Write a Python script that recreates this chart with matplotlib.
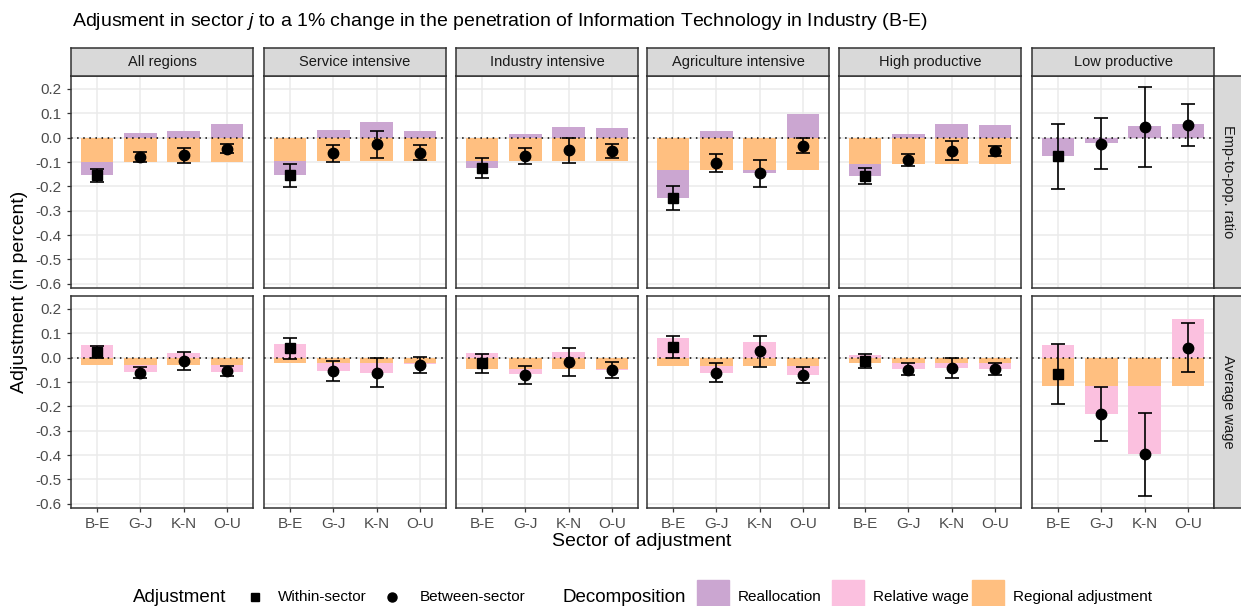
import matplotlib
matplotlib.use("Agg")
import matplotlib.pyplot as plt
from matplotlib.patches import Rectangle
from matplotlib.lines import Line2D

plt.rcParams["font.family"] = ["Liberation Sans", "DejaVu Sans"]
plt.rcParams["mathtext.fontset"] = "custom"
plt.rcParams["mathtext.it"] = "Liberation Sans:italic"

# Data
sectors = ["B-E", "G-J", "K-N", "O-U"]
regions = ["All regions", "Service intensive", "Industry intensive",
           "Agriculture intensive", "High productive", "Low productive"]
outcomes = ["Emp-to-pop. ratio", "Average wage"]

# Emp-to-pop. ratio: regional adjustment + reallocation
emp_regional = [
    [-0.100, -0.100, -0.100, -0.100],
    [-0.094, -0.094, -0.094, -0.094],
    [-0.096, -0.096, -0.096, -0.096],
    [-0.131, -0.131, -0.131, -0.131],
    [-0.109, -0.109, -0.109, -0.109],
    [-0.003, -0.003, -0.003, -0.003],
]
emp_realloc = [
    [-0.055, 0.019, 0.026, 0.054],
    [-0.061, 0.030, 0.064, 0.029],
    [-0.029, 0.016, 0.043, 0.041],
    [-0.116, 0.027, -0.016, 0.096],
    [-0.047, 0.016, 0.054, 0.053],
    [-0.072, -0.021, 0.048, 0.056],
]
emp_point = [
    [-0.155, -0.080, -0.072, -0.046],
    [-0.155, -0.062, -0.027, -0.062],
    [-0.125, -0.077, -0.050, -0.054],
    [-0.247, -0.103, -0.147, -0.034],
    [-0.156, -0.091, -0.053, -0.054],
    [-0.075, -0.026, 0.042, 0.052],
]
emp_lo = [
    [-0.184, -0.099, -0.105, -0.065],
    [-0.202, -0.098, -0.082, -0.092],
    [-0.167, -0.110, -0.102, -0.083],
    [-0.295, -0.139, -0.201, -0.063],
    [-0.189, -0.115, -0.091, -0.075],
    [-0.212, -0.129, -0.122, -0.034],
]
emp_hi = [
    [-0.130, -0.058, -0.041, -0.027],
    [-0.108, -0.029, 0.027, -0.031],
    [-0.082, -0.043, 0.000, -0.026],
    [-0.200, -0.067, -0.092, 0.000],
    [-0.126, -0.067, -0.015, -0.034],
    [0.058, 0.080, 0.209, 0.138],
]

# Average wage: regional adjustment + relative wage
wage_regional = [
    [-0.030, -0.030, -0.030, -0.030],
    [-0.020, -0.020, -0.020, -0.020],
    [-0.045, -0.045, -0.045, -0.045],
    [-0.034, -0.034, -0.034, -0.034],
    [-0.024, -0.024, -0.024, -0.024],
    [-0.118, -0.118, -0.118, -0.118],
]
wage_relwage = [
    [0.053, -0.029, 0.019, -0.027],
    [0.058, -0.033, -0.041, -0.007],
    [0.019, -0.024, 0.024, -0.005],
    [0.079, -0.027, 0.063, -0.039],
    [0.011, -0.024, -0.020, -0.024],
    [0.052, -0.115, -0.278, 0.158],
]
wage_point = [
    [0.024, -0.061, -0.014, -0.054],
    [0.038, -0.054, -0.061, -0.029],
    [-0.024, -0.072, -0.019, -0.052],
    [0.044, -0.061, 0.027, -0.073],
    [-0.012, -0.050, -0.044, -0.046],
    [-0.067, -0.233, -0.397, 0.041],
]
wage_lo = [
    [0.000, -0.083, -0.049, -0.076],
    [-0.005, -0.094, -0.122, -0.061],
    [-0.064, -0.109, -0.076, -0.082],
    [0.000, -0.099, -0.037, -0.106],
    [-0.041, -0.073, -0.082, -0.071],
    [-0.189, -0.343, -0.569, -0.057],
]
wage_hi = [
    [0.049, -0.037, 0.024, -0.033],
    [0.080, -0.014, 0.000, 0.004],
    [0.016, -0.034, 0.039, -0.018],
    [0.087, -0.020, 0.090, -0.038],
    [0.016, -0.022, 0.000, -0.023],
    [0.057, -0.119, -0.226, 0.141],
]

# Colours (Set1 at alpha 0.5 over white)
c_realloc = "#CBA6D1"
c_relwage = "#FBC0DF"
c_regional = "#FFBF80"

W, H = 1241, 606
col_left = [71, 264, 456, 647, 839, 1032]
pw, ph = 182, 212
row_top = [76, 296]

rows = [
    (emp_regional, emp_realloc, c_realloc, emp_point, emp_lo, emp_hi),
    (wage_regional, wage_relwage, c_relwage, wage_point, wage_lo, wage_hi),
]

fig = plt.figure(figsize=(W / 100, H / 100), dpi=100)
x = list(range(len(sectors)))
yticks = [0.2, 0.1, 0.0, -0.1, -0.2, -0.3, -0.4, -0.5, -0.6]

for r, (reg, comp, ccol, pt, lo, hi) in enumerate(rows):
    for c, region in enumerate(regions):
        ax = fig.add_axes([col_left[c] / W, 1 - (row_top[r] + ph) / H, pw / W, ph / H])
        ax.set_xlim(-0.6, 3.6)
        ax.set_ylim(-0.617, 0.253)
        ax.set_axisbelow(True)
        ax.grid(True, color="#EBEBEB", linewidth=1.1)
        # stacked bars (positive and negative stacked separately)
        for i in x:
            pos, neg = 0.0, 0.0
            for v, col in ((reg[c][i], c_regional), (comp[c][i], ccol)):
                if v >= 0:
                    ax.bar(i, v, bottom=pos, width=0.75, color=col, linewidth=0)
                    pos += v
                else:
                    ax.bar(i, v, bottom=neg, width=0.75, color=col, linewidth=0)
                    neg += v
        ax.axhline(0, color="black", linestyle=(0, (1, 3)), linewidth=1.1)
        for i in x:
            ax.errorbar(i, pt[c][i], yerr=[[pt[c][i] - lo[c][i]], [hi[c][i] - pt[c][i]]],
                        fmt="none", ecolor="black", elinewidth=1.2, capsize=5, capthick=1.2)
            ax.plot(i, pt[c][i], marker="s" if i == 0 else "o", color="black",
                    markersize=7 if i == 0 else 7.5, linestyle="none")
        ax.set_yticks(yticks)
        ax.set_xticks(x)
        for s in ax.spines.values():
            s.set_color("#333333")
            s.set_linewidth(1.1)
        ax.tick_params(length=3, color="#333333", labelsize=11, labelcolor="#4D4D4D", width=0.9)
        if c == 0:
            ax.set_yticklabels([f"{t:.1f}" for t in yticks])
        else:
            ax.tick_params(axis="y", length=0, labelleft=False)
        if r == 1:
            ax.set_xticklabels(sectors)
        else:
            ax.tick_params(axis="x", length=0, labelbottom=False)

        if r == 0:
            sax = fig.add_axes([col_left[c] / W, 1 - row_top[0] / H, pw / W, 28 / H])
            sax.set_facecolor("#D9D9D9")
            sax.set_xticks([])
            sax.set_yticks([])
            for s in sax.spines.values():
                s.set_color("#333333")
                s.set_linewidth(1.1)
            sax.text(0.5, 0.5, region, ha="center", va="center", fontsize=10.5, color="#1A1A1A")
        if c == len(regions) - 1:
            sax = fig.add_axes([(col_left[c] + pw) / W, 1 - (row_top[r] + ph) / H, 28 / W, ph / H])
            sax.set_facecolor("#D9D9D9")
            sax.set_xticks([])
            sax.set_yticks([])
            for s in sax.spines.values():
                s.set_color("#333333")
                s.set_linewidth(1.1)
            sax.text(0.5, 0.5, outcomes[r], ha="center", va="center", rotation=-90,
                     fontsize=10.5, color="#1A1A1A")

fig.text(72 / W, 1 - 22 / H,
         r"Adjusment in sector $j$ to a 1% change in the penetration of Information Technology in Industry (B-E)",
         ha="left", va="center", fontsize=14)
fig.text(20 / W, 1 - 292 / H, "Adjustment (in percent)", rotation=90,
         ha="center", va="center", fontsize=14)
fig.text(642 / W, 1 - 542 / H, "Sector of adjustment", ha="center", va="center", fontsize=14)

# Legend
ly = 1 - 597 / H
fig.text(133 / W, ly, "Adjustment", ha="left", va="center", fontsize=13.5)
fig.add_artist(Line2D([255 / W], [ly], marker="s", color="black", markersize=6,
                      transform=fig.transFigure))
fig.text(278 / W, ly, "Within-sector", ha="left", va="center", fontsize=11)
fig.add_artist(Line2D([392 / W], [ly], marker="o", color="black", markersize=6.5,
                      transform=fig.transFigure))
fig.text(420 / W, ly, "Between-sector", ha="left", va="center", fontsize=11)
fig.text(562 / W, ly, "Decomposition", ha="left", va="center", fontsize=13.5)
for xs, col, lab in ((697, c_realloc, "Reallocation"), (832, c_relwage, "Relative wage"),
                     (972, c_regional, "Regional adjustment")):
    fig.patches.append(Rectangle((xs / W, 1 - 610 / H), 32 / W, 30 / H, color=col,
                                 transform=fig.transFigure))
    fig.text((xs + 41) / W, ly, lab, ha="left", va="center", fontsize=11)

fig.savefig("out.png", dpi=100)
